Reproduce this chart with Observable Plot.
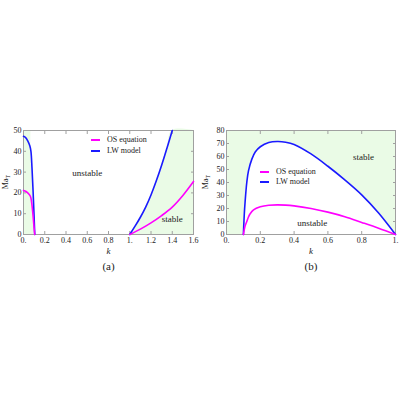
<!DOCTYPE html>
<html><head><meta charset="utf-8">
<script src="https://cdn.jsdelivr.net/npm/d3@7"></script>
<script src="https://cdn.jsdelivr.net/npm/@observablehq/plot@0.6"></script>
<style>
body{margin:0;background:#fff;font-family:"Liberation Serif",serif;}
#wrap{position:relative;width:400px;height:400px;overflow:hidden;}
.panel{position:absolute;top:120px;}
.panel svg, .panel svg text{font-family:"Liberation Serif",serif !important;}
.leg{position:absolute;font-size:8px;line-height:10px;color:#222;white-space:nowrap;}
.legline{position:absolute;height:1.5px;}
</style></head><body><div id="wrap"></div><script>
// ---------- Data ----------
// Panel (a): left branch (k near 0)
const kA_lwL = [0, 0.02, 0.04, 0.06, 0.07, 0.08, 0.09, 0.1, 0.106];
const maA_lwL = [47.2, 46.6, 45, 42.5, 40, 32, 21, 8, 0];
const kA_osL = [0, 0.02, 0.04, 0.06, 0.07, 0.08, 0.09, 0.1, 0.106];
const maA_osL = [21.2, 20.8, 20, 18.8, 17.5, 14, 9, 3, 0];
// Panel (a): right branch (k >= 1)
const kA_lwR = [1, 1.05, 1.1, 1.15, 1.2, 1.25, 1.3, 1.35, 1.4];
const maA_lwR = [0, 4, 8.3, 13.2, 19, 25.8, 33.3, 41.5, 50];
const kA_osR = [1, 1.1, 1.2, 1.3, 1.4, 1.5, 1.6];
const maA_osR = [0, 2.6, 5.6, 9.1, 13.2, 18.8, 25.5];
// Panel (a): stable-region boundaries
const maA_greenL = [0, 8, 21, 32, 40, 50];
const kA_greenL = [0.106, 0.1, 0.09, 0.08, 0.07, 0.07];
const kA_greenR = [1, 1.05, 1.1, 1.15, 1.2, 1.25, 1.3, 1.35, 1.4, 1.6];
const maA_greenR = [0, 4, 8.3, 13.2, 19, 25.8, 33.3, 41.5, 50, 50];
// Panel (b)
const kB_lw = [0.1, 0.105, 0.11, 0.12, 0.13, 0.15, 0.17, 0.2, 0.25, 0.3, 0.35, 0.4, 0.5, 0.6, 0.7, 0.8, 0.9, 1];
const maB_lw = [0, 15, 25, 40, 49, 58, 63.5, 67.5, 70.7, 71.5, 71, 69.3, 62, 52.5, 42, 30.5, 16.5, 0];
const kB_os = [0.1, 0.105, 0.11, 0.12, 0.13, 0.14, 0.16, 0.2, 0.25, 0.3, 0.35, 0.4, 0.5, 0.6, 0.7, 0.8, 0.9, 1];
const maB_os = [0, 3.5, 6.5, 10, 13.5, 16, 19, 21.3, 22.5, 22.8, 22.6, 22, 20, 17.2, 13.7, 9.3, 4.8, 0];
// Ticks
const xTicksA = [0, 0.2, 0.4, 0.6, 0.8, 1, 1.2, 1.4, 1.6];
const yTicksA = [0, 10, 20, 30, 40, 50];
const xTicksB = [0, 0.2, 0.4, 0.6, 0.8, 1];
const yTicksB = [0, 10, 20, 30, 40, 50, 60, 70, 80];
// Series names & region labels
const seriesNames = ["OS equation", "LW model"];
const labelsA = [{t: "unstable", k: 0.6, ma: 29.7}, {t: "stable", k: 1.4, ma: 7.5}];
const labelsB = [{t: "stable", k: 0.81, ma: 59.5}, {t: "unstable", k: 0.507, ma: 8.7}];

// ---------- Styles ----------
const BLUE = "#1a1aff", MAG = "#ff00ff", GREEN = "#eafbe6", FRAME = "#a0a0a0", TXT = "#222";
const CURVE = "catmull-rom";
const zip = (ks, ms) => ks.map((k, i) => ({k, ma: ms[i]}));
const fmtX = d => Number.isInteger(d) ? d + "." : String(d);

function axes(xt, yt) {
  const common = {tickSize: -3, stroke: FRAME, fill: TXT, label: null};
  return [
    Plot.axisX({...common, ticks: xt, tickFormat: fmtX, tickPadding: 6}),
    Plot.axisX({...common, anchor: "top", ticks: xt, tickFormat: () => ""}),
    Plot.axisY({...common, ticks: yt, tickPadding: 5}),
    Plot.axisY({...common, anchor: "right", ticks: yt, tickFormat: () => ""})
  ];
}
function deco(cap) {
  return [
    Plot.text(["k"], {frameAnchor: "bottom", dy: 19, fontStyle: "italic", fontSize: 9, fill: TXT}),
    Plot.text([cap], {frameAnchor: "bottom", dy: 35, fontSize: 11, fill: TXT})
  ];
}
const lineOpts = c => ({x: "k", y: "ma", stroke: c, strokeWidth: 1.6, curve: CURVE});
const STYLE = {fontFamily: "Liberation Serif, serif", fontSize: "8px", background: "transparent", color: TXT};

const plotA = Plot.plot({
  width: 200, height: 160, marginLeft: 23, marginRight: 7, marginTop: 10, marginBottom: 46,
  style: STYLE,
  x: {domain: [0, 1.6]}, y: {domain: [0, 50]},
  marks: [
    Plot.areaX(zip(kA_greenL, maA_greenL), {y: "ma", x1: 0, x2: "k", fill: GREEN, curve: CURVE}),
    Plot.areaY(zip(kA_greenR, maA_greenR), {x: "k", y1: 0, y2: "ma", fill: GREEN, curve: CURVE}),
    Plot.frame({stroke: FRAME}),
    ...axes(xTicksA, yTicksA),
    Plot.line(zip(kA_lwL, maA_lwL), lineOpts(BLUE)),
    Plot.line(zip(kA_osL, maA_osL), lineOpts(MAG)),
    Plot.line(zip(kA_lwR, maA_lwR), lineOpts(BLUE)),
    Plot.line(zip(kA_osR, maA_osR), lineOpts(MAG)),
    Plot.text(labelsA, {x: "k", y: "ma", text: "t", fontSize: 9, fill: TXT}),
    ...deco("(a)")
  ]
});

const plotB = Plot.plot({
  width: 200, height: 160, marginLeft: 26, marginRight: 5, marginTop: 10, marginBottom: 46,
  style: STYLE,
  x: {domain: [0, 1]}, y: {domain: [0, 80]},
  marks: [
    Plot.frame({fill: GREEN}),
    Plot.areaY(zip(kB_lw, maB_lw), {x: "k", y: "ma", fill: "white", curve: CURVE}),
    Plot.frame({stroke: FRAME}),
    ...axes(xTicksB, yTicksB),
    Plot.line(zip(kB_lw, maB_lw), lineOpts(BLUE)),
    Plot.line(zip(kB_os, maB_os), lineOpts(MAG)),
    Plot.text(labelsB, {x: "k", y: "ma", text: "t", fontSize: 9, fill: TXT}),
    ...deco("(b)")
  ]
});

function yLabel(svg, x, y) {
  d3.select(svg).append("text")
    .attr("transform", `translate(${x},${y}) rotate(-90)`)
    .attr("text-anchor", "middle").attr("font-size", 8).attr("fill", TXT)
    .html('Ma<tspan font-size="6" dy="2">T</tspan>');
}
yLabel(plotA, 7.5, 62);
yLabel(plotB, 7.5, 62);

const wrap = document.getElementById("wrap");
function place(el, left) {
  const d = document.createElement("div"); d.className = "panel"; d.style.left = left + "px";
  d.appendChild(el); wrap.appendChild(d);
}
place(plotA, 0);
place(plotB, 200);

function legend(x0, y0, gap) {
  [MAG, BLUE].forEach((c, i) => {
    const yy = Math.round(y0 + i * gap);
    const l = document.createElement("div"); l.className = "legline";
    l.style.cssText = `left:${x0}px;top:${yy - 1}px;width:9px;background:${c}`;
    wrap.appendChild(l);
    const t = document.createElement("div"); t.className = "leg";
    t.style.cssText = `left:${x0 + 16}px;top:${yy - 5.5}px`;
    t.textContent = seriesNames[i];
    wrap.appendChild(t);
  });
}
legend(91, 140, 10.7);
legend(260, 171.5, 10.5);
</script></body></html>
